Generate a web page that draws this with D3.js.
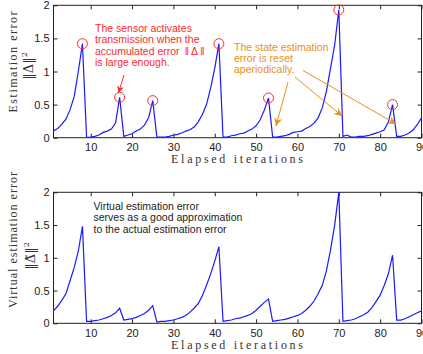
<!DOCTYPE html>
<html>
<head>
<meta charset="utf-8">
<script src="https://cdn.jsdelivr.net/npm/d3@7"></script>
<style>
  body { margin: 0; background: #fff; }
  svg { display: block; }
  .tick text { font-family: "Liberation Sans", Arial, sans-serif; font-size: 11px; fill: #222; }
  .tick line { stroke: #222; }
  .lbl { font-family: "Liberation Serif", "DejaVu Serif", serif; font-size: 12px; fill: #333; }
  .math { font-family: "DejaVu Serif", serif; font-size: 13px; fill: #333; }
  .note { font-family: "Liberation Sans", Arial, sans-serif; font-size: 10.5px; }
</style>
</head>
<body>
<svg id="chart" width="423" height="354"></svg>
<script>
// iterations 1..90
var iters = d3.range(1, 91);

// actual estimation error ||Delta||^2 (top panel)
var actualErr = [
  0.10, 0.14, 0.20, 0.28, 0.42, 0.62, 1.00, 1.42,
  0.005, 0.01, 0.02, 0.04, 0.08, 0.10, 0.13, 0.22, 0.61,
  0.02, 0.04, 0.06, 0.10, 0.13, 0.19, 0.30, 0.56,
  0.01, 0.01, 0.01, 0.02, 0.04, 0.05, 0.07, 0.10, 0.12, 0.16, 0.24, 0.35, 0.50, 0.75, 1.05, 1.42,
  0.01, 0.01, 0.03, 0.04, 0.06, 0.07, 0.10, 0.13, 0.18, 0.27, 0.42, 0.60,
  0.01, 0.01, 0.02, 0.03, 0.05, 0.08, 0.09, 0.10, 0.14, 0.17, 0.22, 0.30, 0.45, 0.70, 1.05, 1.40, 1.93,
  0.02, 0.04, 0.01, 0.01, 0.02, 0.02, 0.03, 0.05, 0.07, 0.09, 0.12, 0.24, 0.50,
  0.02, 0.02, 0.04, 0.07, 0.12, 0.20, 0.30
];

// virtual estimation error (bottom panel)
var virtualErr = [
  0.19, 0.26, 0.35, 0.45, 0.65, 0.85, 1.10, 1.48,
  0.03, 0.03, 0.04, 0.05, 0.07, 0.09, 0.12, 0.16, 0.23,
  0.05, 0.06, 0.07, 0.09, 0.12, 0.15, 0.20, 0.27,
  0.02, 0.03, 0.03, 0.04, 0.05, 0.07, 0.09, 0.12, 0.17, 0.23, 0.30, 0.42, 0.58, 0.75, 0.95, 1.17,
  0.03, 0.04, 0.05, 0.07, 0.08, 0.10, 0.12, 0.15, 0.20, 0.26, 0.32, 0.37,
  0.03, 0.04, 0.05, 0.06, 0.08, 0.10, 0.12, 0.15, 0.20, 0.26, 0.34, 0.45, 0.58, 0.80, 1.12, 1.50, 2.00,
  0.03, 0.04, 0.05, 0.07, 0.10, 0.13, 0.17, 0.24, 0.33, 0.43, 0.58, 0.76, 1.04,
  0.05, 0.05, 0.07, 0.10, 0.13, 0.16, 0.19
];

// transmission instants (circled peaks)
var triggerIters = [8, 17, 25, 41, 53, 70, 83];

var xTicks = [10, 20, 30, 40, 50, 60, 70, 80, 90];
var yTicks = [0, 0.5, 1, 1.5, 2];

var svg = d3.select("#chart");
var left = 53.5, right = 421.5;

var x = d3.scaleLinear().domain([1, 90]).range([left, right]);

function panel(top, bottom, values, opts) {
  var y = d3.scaleLinear().domain([0, 2]).range([bottom, top]);
  var g = svg.append("g");

  g.append("g").attr("transform", "translate(0," + bottom + ")")
    .call(d3.axisBottom(x).tickValues(xTicks).tickSize(-4).tickPadding(6))
    .call(function(a) { a.select(".domain").remove(); });
  g.append("g").attr("transform", "translate(0," + top + ")")
    .call(d3.axisTop(x).tickValues(xTicks).tickSize(-4).tickFormat(""))
    .call(function(a) { a.select(".domain").remove(); });
  g.append("g").attr("transform", "translate(" + left + ",0)")
    .call(d3.axisLeft(y).tickValues(yTicks).tickSize(-4).tickPadding(4).tickFormat(d3.format("")))
    .call(function(a) { a.select(".domain").remove(); });
  g.append("g").attr("transform", "translate(" + right + ",0)")
    .call(d3.axisRight(y).tickValues(yTicks).tickSize(-4).tickFormat(""))
    .call(function(a) { a.select(".domain").remove(); });

  g.append("rect")
    .attr("x", left).attr("y", top)
    .attr("width", right - left).attr("height", bottom - top)
    .attr("fill", "none").attr("stroke", "#222").attr("stroke-width", 1);

  var line = d3.line()
    .x(function(d, i) { return x(iters[i]); })
    .y(function(d) { return y(d); });

  g.append("path").datum(values)
    .attr("d", line)
    .attr("fill", "none")
    .attr("stroke", "#1a1aff")
    .attr("stroke-width", 1.2);

  // x label
  g.append("text").attr("class", "lbl")
    .attr("x", 237).attr("y", bottom + 25.5)
    .attr("text-anchor", "middle")
    .attr("textLength", 132).attr("lengthAdjust", "spacing")
    .text("Elapsed iterations");

  // y label
  g.append("text").attr("class", "lbl")
    .attr("transform", "translate(17," + opts.ylabY + ") rotate(-90)")
    .attr("text-anchor", "middle")
    .attr("textLength", opts.ylabLen).attr("lengthAdjust", "spacing")
    .text(opts.ylab);

  var m = g.append("text").attr("class", "math")
    .attr("transform", "translate(" + opts.mathX + "," + opts.mathY + ") rotate(-90)")
    .attr("text-anchor", "middle");
  m.append("tspan").text(opts.math);
  m.append("tspan").attr("dy", -6).attr("font-size", "8px").text("2");

  return y;
}

var yTop = panel(5.3, 137.7, actualErr, {
  ylab: "Estimation error", ylabY: 62, ylabLen: 101,
  math: "\u2016\u0394\u2016", mathX: 33, mathY: 66
});

var yBot = panel(192.3, 323.3, virtualErr, {
  ylab: "Virtual estimation error", ylabY: 240, ylabLen: 136,
  math: "\u2016\u0394\u0303\u2016", mathX: 35, mathY: 256
});

// circles at transmission instants
svg.append("g").selectAll("circle")
  .data(triggerIters)
  .enter().append("circle")
  .attr("cx", function(d) { return x(d); })
  .attr("cy", function(d) { return yTop(actualErr[d - 1]); })
  .attr("r", 5)
  .attr("fill", "none")
  .attr("stroke", "#ff2a2a")
  .attr("stroke-width", 1);

// arrowheads
var defs = svg.append("defs");
function marker(id, color, w, h) {
  defs.append("marker").attr("id", id)
    .attr("viewBox", "0 0 10 10").attr("refX", 10).attr("refY", 5)
    .attr("markerUnits", "userSpaceOnUse")
    .attr("markerWidth", w).attr("markerHeight", h)
    .attr("orient", "auto")
    .append("path").attr("d", "M0,0 L10,5 L0,10 L3,5 Z").attr("fill", color);
}
marker("redHead", "#ff2a2a", 8, 7);
marker("orHead", "#e8901a", 10, 8);

function note(lines, x0, y0, dy, color) {
  var t = svg.append("text").attr("class", "note").attr("fill", color);
  lines.forEach(function(s, i) {
    t.append("tspan").attr("x", x0).attr("y", y0 + i * dy).text(s);
  });
}

note(["The sensor activates", "transmission when the",
      "accumulated error \u2009\u2016\u2009\u0394\u2009\u2016", "is large enough."],
     95, 32.3, 11.1, "#ff2a2a");

note(["The state estimation", "error is reset", "aperiodically."],
     234, 51, 11, "#e8901a");

note(["Virtual estimation error", "serves as a good approximation",
      "to the actual estimation error"],
     93.5, 209.5, 11.6, "#222");

svg.append("line")
  .attr("x1", 124).attr("y1", 75).attr("x2", 118.5).attr("y2", 93)
  .attr("stroke", "#ff2a2a").attr("stroke-width", 1)
  .attr("marker-end", "url(#redHead)");

var orangeArrows = [
  [[288, 82], [276, 126]],
  [[295, 77], [342, 116]],
  [[303, 70.5], [396, 124]]
];
svg.append("g").selectAll("line")
  .data(orangeArrows)
  .enter().append("line")
  .attr("x1", function(d) { return d[0][0]; })
  .attr("y1", function(d) { return d[0][1]; })
  .attr("x2", function(d) { return d[1][0]; })
  .attr("y2", function(d) { return d[1][1]; })
  .attr("stroke", "#e8901a").attr("stroke-width", 1)
  .attr("marker-end", "url(#orHead)");
</script>
</body>
</html>
